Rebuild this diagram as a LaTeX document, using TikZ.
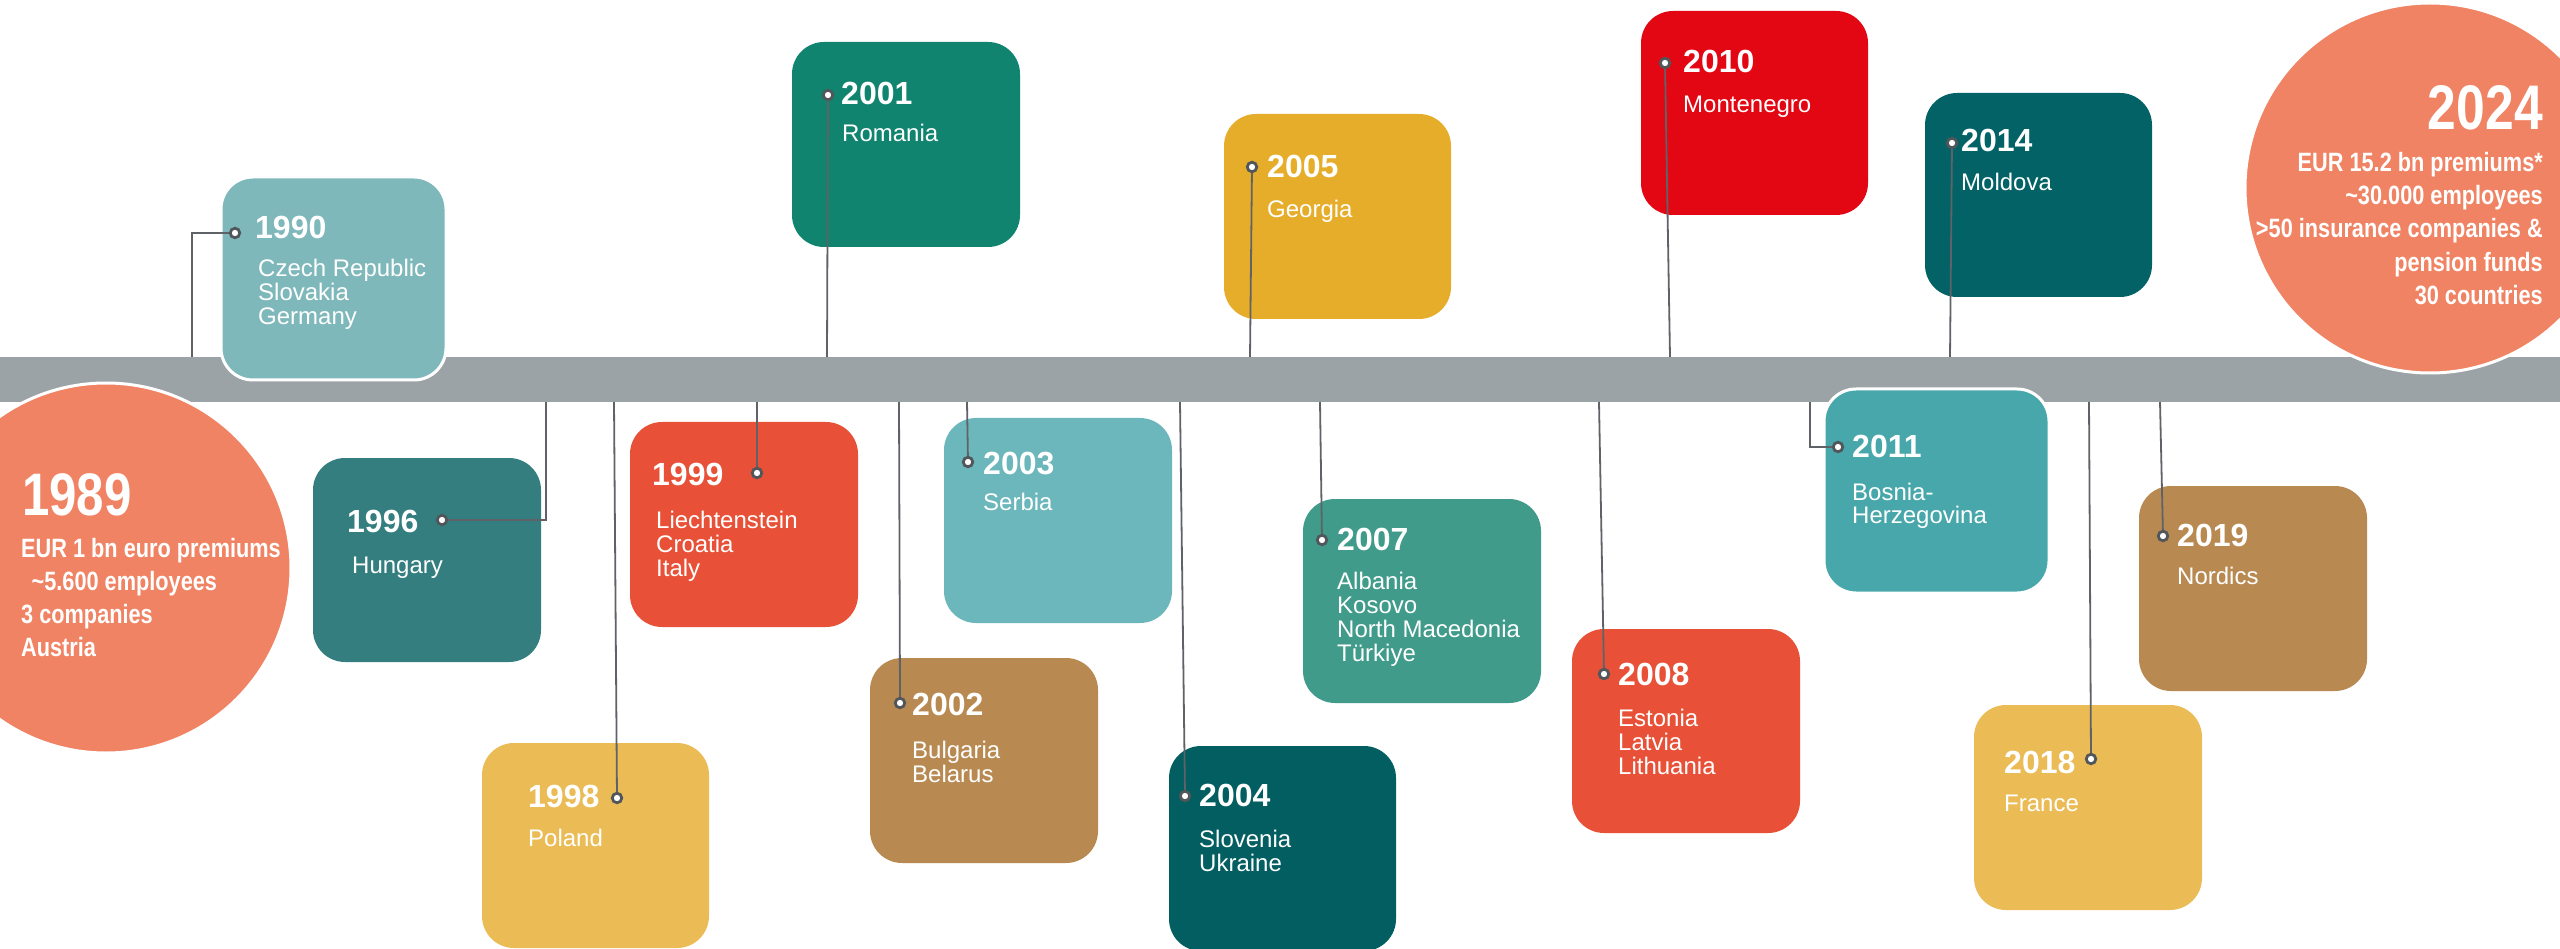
\documentclass[tikz,border=0pt]{standalone}
\usepackage{fontspec}
\setmainfont{Liberation Sans}
\newfontfamily\narrowfont[FakeStretch=0.82]{Liberation Sans}
\definecolor{barcol}{HTML}{9CA3A6}
\definecolor{linecol}{HTML}{5F6368}
\definecolor{dotcol}{HTML}{51565B}
\definecolor{salmon}{HTML}{F08363}
\definecolor{cA}{HTML}{7EB8BA}
\definecolor{cB}{HTML}{10846E}
\definecolor{cC}{HTML}{E6AD2A}
\definecolor{cD}{HTML}{E30613}
\definecolor{cE}{HTML}{036265}
\definecolor{cF}{HTML}{347E80}
\definecolor{cG}{HTML}{E85137}
\definecolor{cH}{HTML}{EBBC55}
\definecolor{cI}{HTML}{6CB7BB}
\definecolor{cJ}{HTML}{B88A52}
\definecolor{cK}{HTML}{025E60}
\definecolor{cL}{HTML}{409B8A}
\definecolor{cM}{HTML}{48A7AA}
\newcommand\clines[1]{\parbox[t]{320pt}{\raggedright\fontsize{24}{24}\selectfont #1}}
\tikzset{
  box/.style={rectangle, rounded corners=32pt, inner sep=0pt, draw=none},
  wbox/.style={rectangle, rounded corners=32pt, inner sep=0pt, draw=white, line width=3pt},
  bigcirc/.style={circle, fill=salmon, draw=white, line width=3pt, minimum size=370pt, inner sep=0pt},
  conn/.style={draw=linecol, line width=1.8pt},
  dot/.style={circle, fill=white, draw=dotcol, line width=2.8pt, minimum size=9.5pt, inner sep=0pt},
  yr/.style={anchor=base west, inner sep=0pt, text=white, font=\fontsize{32}{32}\selectfont\bfseries},
  ctry/.style={anchor=base west, inner sep=0pt, text=white},
  circtext/.style={inner sep=0pt, text=white, font=\narrowfont\bfseries\fontsize{26.5}{26.5}\selectfont},
}
\begin{document}
\begin{tikzpicture}[x=1pt,y=-1pt]
\useasboundingbox (0,0) rectangle (2560,949);
% bar
\node[fill=barcol, minimum width=2560pt, minimum height=45pt, inner sep=0pt, anchor=north west] (bar) at (0,357) {};
% circles
\node[bigcirc] (c1989) at (106,568) {};
\node[bigcirc] (c2024) at (2430,188) {};
% boxes
\node[wbox, fill=cA, minimum width=225pt, minimum height=203pt] (b1990) at (333.5,278.5) {};
\node[box, fill=cB, minimum width=228pt, minimum height=205pt] (b2001) at (906,144.5) {};
\node[box, fill=cC, minimum width=227pt, minimum height=205pt] (b2005) at (1337.5,216.5) {};
\node[box, fill=cD, minimum width=227pt, minimum height=204pt] (b2010) at (1754.5,113) {};
\node[box, fill=cE, minimum width=227pt, minimum height=204pt] (b2014) at (2038.5,195) {};
\node[box, fill=cF, minimum width=228pt, minimum height=204pt] (b1996) at (427,560) {};
\node[box, fill=cG, minimum width=228pt, minimum height=205pt] (b1999) at (744,524.5) {};
\node[box, fill=cH, minimum width=227pt, minimum height=205pt] (b1998) at (595.5,845.5) {};
\node[box, fill=cJ, minimum width=228pt, minimum height=205pt] (b2002) at (984,760.5) {};
\node[box, fill=cI, minimum width=228pt, minimum height=205pt] (b2003) at (1058,520.5) {};
\node[box, fill=cK, minimum width=227pt, minimum height=205pt] (b2004) at (1282.5,848.5) {};
\node[box, fill=cL, minimum width=238pt, minimum height=204pt] (b2007) at (1422,601) {};
\node[box, fill=cG, minimum width=228pt, minimum height=204pt] (b2008) at (1686,731) {};
\node[wbox, fill=cM, minimum width=225pt, minimum height=204pt] (b2011) at (1936.5,491) {};
\node[box, fill=cJ, minimum width=228pt, minimum height=205pt] (b2019) at (2253,588.5) {};
\node[box, fill=cH, minimum width=228pt, minimum height=205pt] (b2018) at (2088,807.5) {};
% connector start points on the bar
\coordinate (t1990) at (192,357);
\coordinate (t2001) at (827,357);
\coordinate (t2005) at (1250,357);
\coordinate (t2010) at (1670,357);
\coordinate (t2014) at (1950,357);
\coordinate (t1996) at (546,402);
\coordinate (t1998) at (614,402);
\coordinate (t1999) at (757,402);
\coordinate (t2002) at (899,402);
\coordinate (t2003) at (967,402);
\coordinate (t2004) at (1180,402);
\coordinate (t2007) at (1320,402);
\coordinate (t2008) at (1599,402);
\coordinate (t2011) at (1810,402);
\coordinate (t2018) at (2089,402);
\coordinate (t2019) at (2160,402);
% dot positions
\coordinate (p1990) at (235,233);
\coordinate (p2001) at (828,95);
\coordinate (p2005) at (1252,167);
\coordinate (p2010) at (1665,63);
\coordinate (p2014) at (1952,143);
\coordinate (p1996) at (442,520);
\coordinate (p1998) at (617,798);
\coordinate (p1999) at (757,473);
\coordinate (p2002) at (900,703);
\coordinate (p2003) at (968,462);
\coordinate (p2004) at (1185,796);
\coordinate (p2007) at (1322,540);
\coordinate (p2008) at (1604,674);
\coordinate (p2011) at (1838,447);
\coordinate (p2018) at (2091,759);
\coordinate (p2019) at (2163,536);
% connectors
\draw[conn] (t1990) |- (p1990);
\draw[conn] (t2001) -- (p2001);
\draw[conn] (t2005) -- (p2005);
\draw[conn] (t2010) -- (p2010);
\draw[conn] (t2014) -- (p2014);
\draw[conn] (t1996) |- (p1996);
\draw[conn] (t1998) -- (p1998);
\draw[conn] (t1999) -- (p1999);
\draw[conn] (t2002) -- (p2002);
\draw[conn] (t2003) -- (p2003);
\draw[conn] (t2004) -- (p2004);
\draw[conn] (t2007) -- (p2007);
\draw[conn] (t2008) -- (p2008);
\draw[conn] (t2011) |- (p2011);
\draw[conn] (t2018) -- (p2018);
\draw[conn] (t2019) -- (p2019);
% dots
\foreach \d in {1990,2001,2005,2010,2014,1996,1998,1999,2002,2003,2004,2007,2008,2011,2018,2019}
  \node[dot] (d\d) at (p\d) {};
% years and countries
\node[yr] (y1990) at (255,239) {1990};
\node[ctry] (n1990) at (258,277) {\clines{Czech Republic\\Slovakia\\Germany}};
\node[yr] (y2001) at (841,105) {2001};
\node[ctry] (n2001) at (842,142) {\clines{Romania}};
\node[yr] (y2005) at (1267,178) {2005};
\node[ctry] (n2005) at (1267,218) {\clines{Georgia}};
\node[yr] (y2010) at (1683,73) {2010};
\node[ctry] (n2010) at (1683,113) {\clines{Montenegro}};
\node[yr] (y2014) at (1961,152) {2014};
\node[ctry] (n2014) at (1961,191) {\clines{Moldova}};
\node[yr] (y1996) at (347,532) {1996};
\node[ctry] (n1996) at (352,573) {\clines{Hungary}};
\node[yr] (y1999) at (652,485) {1999};
\node[ctry] (n1999) at (656,528) {\clines{Liechtenstein\\Croatia\\Italy}};
\node[yr] (y1998) at (528,807) {1998};
\node[ctry] (n1998) at (528,846) {\clines{Poland}};
\node[yr] (y2002) at (912,715) {2002};
\node[ctry] (n2002) at (912,758) {\clines{Bulgaria\\Belarus}};
\node[yr] (y2003) at (983,474) {2003};
\node[ctry] (n2003) at (983,510) {\clines{Serbia}};
\node[yr] (y2004) at (1199,806) {2004};
\node[ctry] (n2004) at (1199,847) {\clines{Slovenia\\Ukraine}};
\node[yr] (y2007) at (1337,550) {2007};
\node[ctry] (n2007) at (1337,589) {\clines{Albania\\Kosovo\\North Macedonia\\Türkiye}};
\node[yr] (y2008) at (1618,685) {2008};
\node[ctry] (n2008) at (1618,726) {\clines{Estonia\\Latvia\\Lithuania}};
\node[yr] (y2011) at (1852,457) {2011};
\node[ctry] (n2011) at (1852,500) {\clines{Bosnia-\\Herzegovina}};
\node[yr] (y2019) at (2177,546) {2019};
\node[ctry] (n2019) at (2177,584) {\clines{Nordics}};
\node[yr] (y2018) at (2004,773) {2018};
\node[ctry] (n2018) at (2004,811) {\clines{France}};
% circle texts
\node[circtext, anchor=base west, font=\narrowfont\bfseries\fontsize{60}{60}\selectfont] (h1989) at (22,515) {1989};
\node[circtext, anchor=base west] (l1a) at (21,557) {EUR 1 bn euro premiums};
\node[circtext, anchor=base west] (l1b) at (21,590) {\ \,\textasciitilde5.600 employees};
\node[circtext, anchor=base west] (l1c) at (21,623) {3 companies};
\node[circtext, anchor=base west] (l1d) at (21,656) {Austria};
\node[circtext, anchor=base east, font=\narrowfont\bfseries\fontsize{63}{63}\selectfont] (h2024) at (2543,130) {2024};
\node[circtext, anchor=base east] (l2a) at (2543,172) {EUR 15.2 bn premiums*};
\node[circtext, anchor=base east] (l2b) at (2543,205) {\textasciitilde30.000 employees};
\node[circtext, anchor=base east] (l2c) at (2543,238) {>50 insurance companies \&};
\node[circtext, anchor=base east] (l2d) at (2543,272) {pension funds};
\node[circtext, anchor=base east] (l2e) at (2543,305) {30 countries};
\end{tikzpicture}
\end{document}
